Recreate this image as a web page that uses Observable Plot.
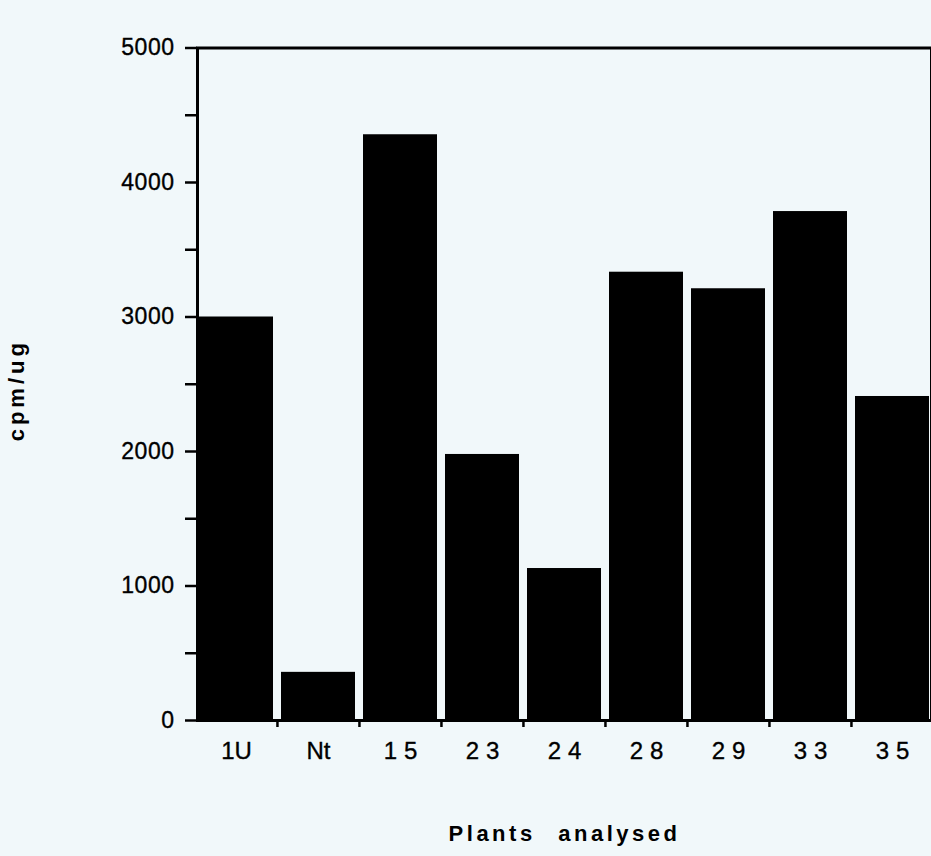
<!DOCTYPE html>
<html>
<head>
<meta charset="utf-8">
<script src="https://cdn.jsdelivr.net/npm/d3@7"></script>
<script src="https://cdn.jsdelivr.net/npm/@observablehq/plot@0.6"></script>
<style>
  html, body { margin: 0; padding: 0; background: #f1f8fa; }
  #chart svg { display: block; background: #f1f8fa; font-family: "Liberation Sans", Arial, Helvetica, sans-serif; }
  g[aria-label="y-axis tick label"] text { font-size: 23px; letter-spacing: 0.5px; stroke: #000; stroke-width: 0.35px; }
  g[aria-label="x-axis tick label"] text { font-size: 24px; stroke: #000; stroke-width: 0.35px; }
  g[aria-label="y-axis label"] text { font-size: 22px; font-weight: bold; letter-spacing: 4px; }
  g[aria-label="x-axis label"] text { font-size: 22px; font-weight: bold; letter-spacing: 3.5px; word-spacing: 13px; }
</style>
</head>
<body>
<div id="chart"></div>
<script>
const categories = ["1U", "Nt", "15", "23", "24", "28", "29", "33", "35"];
const values = [3000, 358, 4355, 1978, 1130, 3333, 3210, 3784, 2409];
const majorTicks = [0, 1000, 2000, 3000, 4000, 5000];
const minorTicks = [500, 1500, 2500, 3500, 4500];
const xTitle = "Plants analysed";
const yTitle = "cpm/ug";

const data = categories.map((c, i) => ({plant: c, cpm: values[i]}));

const W = 931, H = 856;
const mLeft = 197, mTop = 47.5, mBottom = 136;
const xRange = [194.5, 933.5];
const step = (xRange[1] - xRange[0]) / categories.length;

const chart = Plot.plot({
  width: W,
  height: H,
  marginLeft: mLeft,
  marginRight: 0,
  marginTop: mTop,
  marginBottom: mBottom,
  style: {fontSize: "21px", color: "#000", background: "#f1f8fa"},
  x: {domain: categories, range: xRange, paddingInner: 0.1, paddingOuter: 0.05},
  y: {domain: [0, 5000]},
  marks: [
    Plot.barY(data, {x: "plant", y: "cpm", fill: "#000"}),
    Plot.ruleX(categories.slice(1), {x: d => d, dx: -step / 2, y1: 0, y2: 0, insetBottom: -7, stroke: "#000", strokeWidth: 2.5}),
    Plot.frame({stroke: "#000", strokeWidth: 3}),
    Plot.axisY({ticks: majorTicks, tickSize: 12, tickPadding: 11, strokeWidth: 2.5, tickFormat: d => String(d),
      label: yTitle, labelAnchor: "center", labelOffset: 189, labelArrow: "none"}),
    Plot.axisY({ticks: minorTicks, tickSize: 12, strokeWidth: 2.5, text: null, label: null}),
    Plot.axisX({tickSize: 0, tickPadding: 21, label: xTitle, labelAnchor: "center", labelOffset: 120, labelArrow: "none"})
  ]
});

document.getElementById("chart").appendChild(chart);

// wider tracking on numeric category labels, as in the original typesetting
d3.select(chart).selectAll('g[aria-label="x-axis tick label"] text').each(function() {
  const t = d3.select(this);
  if (/^\d+$/.test(t.text())) t.style("letter-spacing", "7px").attr("dx", 3.5);
});
// the rotated y title sits a little below the frame's middle in the original
d3.select(chart).selectAll('g[aria-label="y-axis label"] text').attr("dx", -6);
</script>
</body>
</html>
